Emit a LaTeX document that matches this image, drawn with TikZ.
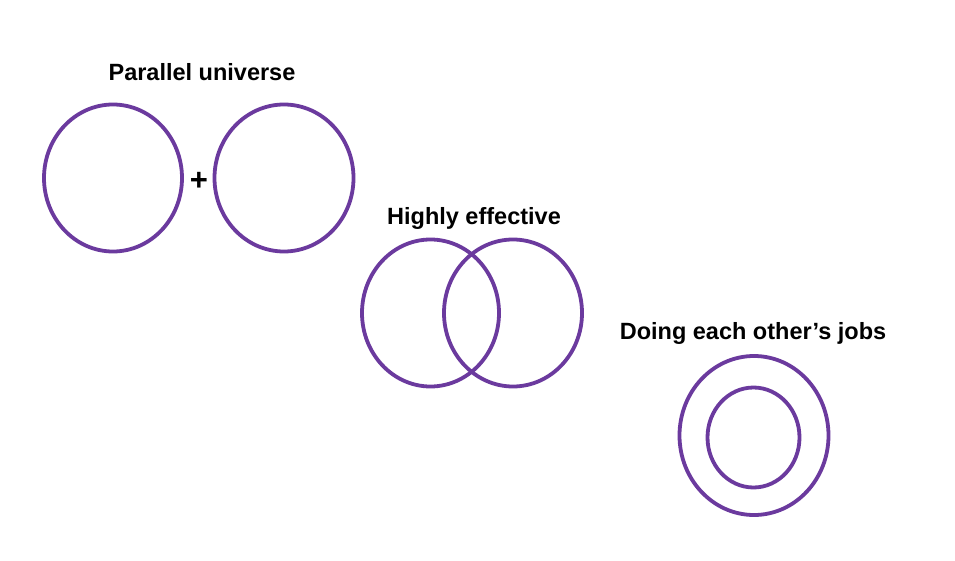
\documentclass[tikz,border=0pt]{standalone}
\usepackage{fontspec}
\setmainfont{Liberation Sans}
\definecolor{ring}{HTML}{6B3A9E}
\begin{document}
\begin{tikzpicture}[x=1pt,y=-1pt,
  ringline/.style={draw=ring,line width=3.8pt},
  lbl/.style={font=\fontsize{23.5}{28}\selectfont\bfseries,inner sep=0pt}]
\useasboundingbox[fill=white] (0,0) rectangle (955,561);
% Parallel universe
\node[lbl] (t1) at (202,72) {Parallel universe};
\draw[ringline] (113,178) ellipse [x radius=69,y radius=73.5];
\draw[ringline] (284,178) ellipse [x radius=69.5,y radius=73.5];
\node[lbl,font=\fontsize{31}{34}\selectfont\bfseries] (plus) at (199,181) {+};
% Highly effective
\node[lbl] (t2) at (474,218) {Highly effective};
\draw[ringline] (430.5,313) ellipse [x radius=68.5,y radius=73.5];
\draw[ringline] (513,313) ellipse [x radius=69,y radius=73.5];
% Doing each other's jobs
\node[lbl] (t3) at (753,333) {Doing each other’s jobs};
\draw[ringline] (754,435.5) ellipse [x radius=74.5,y radius=79.5];
\draw[ringline] (753.5,437.5) ellipse [x radius=46,y radius=50];
\end{tikzpicture}
\end{document}
